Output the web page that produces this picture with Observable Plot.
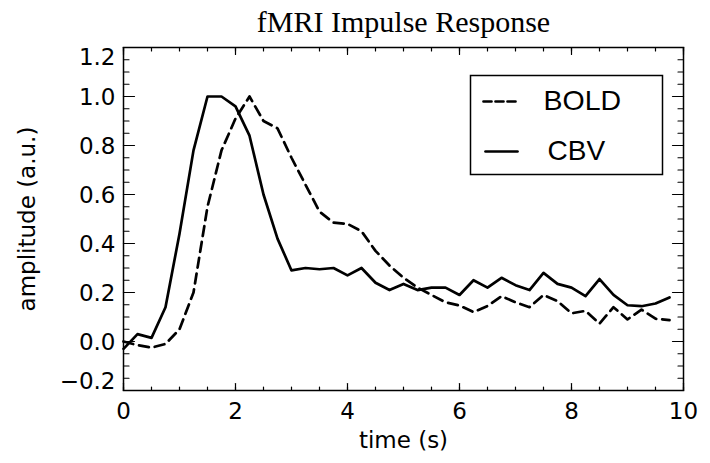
<!DOCTYPE html>
<html><head><meta charset="utf-8">
<script src="https://cdn.jsdelivr.net/npm/d3@7"></script>
<script src="https://cdn.jsdelivr.net/npm/@observablehq/plot@0.6"></script>
<style>body{margin:0;background:#fff}</style>
</head><body><div id="chart"></div>
<script>
const time = [0,0.25,0.5,0.75,1,1.25,1.5,1.75,2,2.25,2.5,2.75,3,3.25,3.5,3.75,4,4.25,4.5,4.75,
              5,5.25,5.5,5.75,6,6.25,6.5,6.75,7,7.25,7.5,7.75,8,8.25,8.5,8.75,9,9.25,9.5,9.75];
const bold = [0.0,-0.015,-0.025,-0.01,0.05,0.20,0.55,0.78,0.91,1.0,0.90,0.87,0.75,0.64,0.53,0.485,0.48,0.45,0.37,0.31,
              0.26,0.22,0.19,0.16,0.147,0.12,0.145,0.185,0.16,0.14,0.19,0.165,0.115,0.125,0.073,0.14,0.09,0.13,0.093,0.087];
const cbv = [-0.03,0.03,0.015,0.14,0.44,0.78,1.0,1.0,0.96,0.84,0.60,0.42,0.29,0.30,0.295,0.30,0.27,0.30,0.24,0.21,
             0.235,0.21,0.22,0.22,0.19,0.25,0.22,0.26,0.23,0.21,0.28,0.235,0.22,0.185,0.255,0.19,0.148,0.144,0.155,0.18];
const seriesNames = ["BOLD", "CBV"];
const xTicks = [0,2,4,6,8,10];
const yTicks = [-0.2,0,0.2,0.4,0.6,0.8,1.0,1.2];
const titleText = "fMRI Impulse Response";
const xLabel = "time (s)";
const yLabel = "amplitude (a.u.)";

const boldRows = time.map((t,i)=>({t, v: bold[i]}));
const cbvRows = time.map((t,i)=>({t, v: cbv[i]}));
const xMinor = d3.range(0, 10.001, 0.5);
const yMinor = d3.range(-0.2, 1.2001, 0.05);
const lineShape = {draw(ctx, l){ ctx.moveTo(0,0); ctx.lineTo(0,-l); }};
const fmt = d => d.toFixed(1).replace("-", "\u2212");
const tickFont = "DejaVu Sans";
const lab = {fontSize: 23, fontFamily: tickFont, fill: "black", lineAnchor: "middle"};

const ticks = (data, opts) => Plot.vector(data, {shape: lineShape, anchor: "start", stroke: "black", strokeWidth: 1.2, ...opts});

const chart = Plot.plot({
  width: 710, height: 463,
  marginLeft: 123, marginRight: 27, marginTop: 47, marginBottom: 73,
  x: {domain: [0, 10], axis: null},
  y: {domain: [-0.2, 1.2], axis: null},
  style: {fontFamily: tickFont, background: "white"},
  marks: [
    Plot.frame({stroke: "black", strokeWidth: 1.5}),
    ticks(xMinor, {x: d=>d, y: -0.2, rotate: 0, length: 3.5}),
    ticks(xTicks, {x: d=>d, y: -0.2, rotate: 0, length: 7}),
    ticks(xMinor, {x: d=>d, y: 1.2, rotate: 180, length: 3.5}),
    ticks(xTicks, {x: d=>d, y: 1.2, rotate: 180, length: 7}),
    ticks(yMinor, {x: 0, y: d=>d, rotate: 90, length: 5.5}),
    ticks(yTicks, {x: 0, y: d=>d, rotate: 90, length: 11}),
    ticks(yMinor, {x: 10, y: d=>d, rotate: 270, length: 5.5}),
    ticks(yTicks, {x: 10, y: d=>d, rotate: 270, length: 11}),
    Plot.line(boldRows, {x: "t", y: "v", stroke: "black", strokeWidth: 2.7, strokeDasharray: "10,6"}),
    Plot.line(cbvRows, {x: "t", y: "v", stroke: "black", strokeWidth: 2.7}),
    Plot.text(xTicks, {x: d=>d, frameAnchor: "bottom", dy: 21, textAnchor: "middle", text: d=>String(d), ...lab}),
    Plot.text(yTicks.filter(d => d > -0.1 && d < 1.1), {y: d=>d, frameAnchor: "left", dx: -8, dy: 1, textAnchor: "end", text: fmt, ...lab}),
    Plot.text([1.2], {y: d=>d, frameAnchor: "left", dx: -8, dy: 10, textAnchor: "end", text: fmt, ...lab}),
    Plot.text([-0.2], {y: d=>d, frameAnchor: "left", dx: -8, dy: -9, textAnchor: "end", text: fmt, ...lab}),
    Plot.text([xLabel], {frameAnchor: "bottom", dy: 50, textAnchor: "middle", text: d=>d, ...lab}),
    Plot.text([yLabel], {frameAnchor: "left", dx: -96, rotate: -90, textAnchor: "middle", text: d=>d, ...lab}),
    Plot.text([titleText], {frameAnchor: "top", dy: -16, lineAnchor: "bottom", textAnchor: "middle", text: d=>d, fontSize: 30, fontFamily: "Liberation Serif", fill: "black"}),
    Plot.frame({stroke: "black", strokeWidth: 1.5, insetLeft: 347, insetRight: 21, insetTop: 28, insetBottom: 216}),
    Plot.vector([seriesNames[0]], {frameAnchor: "top-left", dx: 360, dy: 54, rotate: 90, length: 34, shape: lineShape, anchor: "start", stroke: "black", strokeWidth: 2.7, strokeDasharray: "8,4"}),
    Plot.vector([seriesNames[1]], {frameAnchor: "top-left", dx: 362, dy: 104, rotate: 90, length: 32, shape: lineShape, anchor: "start", stroke: "black", strokeWidth: 2.7}),
    Plot.text([seriesNames[0]], {frameAnchor: "top-left", dx: 420, dy: 53, textAnchor: "start", lineAnchor: "middle", text: d=>d, fontSize: 28.5, fontFamily: "Liberation Sans", fill: "black"}),
    Plot.text([seriesNames[1]], {frameAnchor: "top-left", dx: 424, dy: 104, textAnchor: "start", lineAnchor: "middle", text: d=>d, fontSize: 28, fontFamily: "Liberation Sans", fill: "black"})
  ]
});
document.getElementById("chart").append(chart);
</script>
</body></html>
